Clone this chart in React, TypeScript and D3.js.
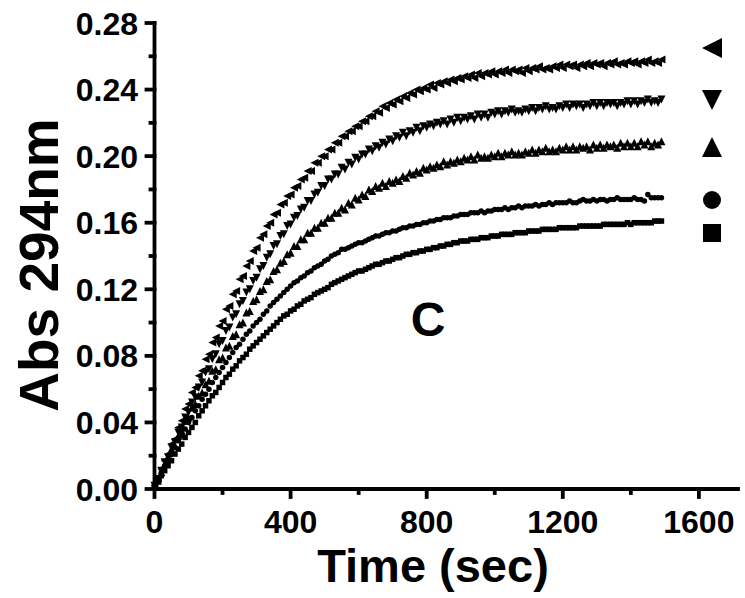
import React from 'react';
import * as d3 from 'd3';

// sampling grid (s)
const timeSec: number[] = d3.range(0, 1500, 10);

// Absorbance at 294 nm, one value per time point
const absLeftTri = [
  0.002,0.006,0.012,0.017,0.021,0.027,0.030,0.037,0.041,0.048,
  0.051,0.058,0.061,0.068,0.071,0.078,0.081,0.088,0.091,0.098,
  0.101,0.108,0.110,0.117,0.119,0.126,0.128,0.134,0.137,0.143,
  0.145,0.151,0.153,0.158,0.160,0.165,0.166,0.171,0.172,0.176,
  0.177,0.181,0.182,0.186,0.187,0.191,0.191,0.196,0.196,0.200,
  0.200,0.204,0.204,0.208,0.208,0.212,0.212,0.215,0.215,0.218,
  0.218,0.221,0.221,0.224,0.224,0.227,0.226,0.230,0.229,0.232,
  0.231,0.234,0.233,0.236,0.235,0.238,0.237,0.240,0.239,0.241,
  0.240,0.243,0.241,0.244,0.243,0.245,0.244,0.246,0.245,0.247,
  0.246,0.248,0.247,0.249,0.247,0.250,0.248,0.250,0.249,0.251,
  0.249,0.251,0.250,0.252,0.250,0.252,0.251,0.252,0.250,0.253,
  0.251,0.253,0.252,0.254,0.252,0.253,0.252,0.254,0.253,0.255,
  0.253,0.255,0.254,0.255,0.253,0.255,0.254,0.256,0.254,0.256,
  0.255,0.256,0.254,0.256,0.255,0.257,0.255,0.256,0.255,0.257,
  0.256,0.257,0.255,0.257,0.256,0.258,0.256,0.257,0.256,0.258,
];
const absDownTri = [
  0.002,0.006,0.011,0.016,0.019,0.025,0.028,0.034,0.037,0.043,
  0.046,0.052,0.055,0.061,0.064,0.070,0.072,0.078,0.081,0.087,
  0.089,0.095,0.097,0.103,0.105,0.111,0.113,0.118,0.120,0.125,
  0.127,0.132,0.134,0.139,0.141,0.146,0.147,0.152,0.153,0.158,
  0.159,0.163,0.164,0.168,0.169,0.173,0.173,0.177,0.178,0.182,
  0.182,0.186,0.186,0.189,0.189,0.193,0.192,0.196,0.195,0.199,
  0.198,0.201,0.201,0.204,0.203,0.206,0.205,0.208,0.207,0.210,
  0.209,0.212,0.211,0.214,0.212,0.215,0.214,0.217,0.215,0.218,
  0.217,0.219,0.218,0.220,0.219,0.221,0.219,0.222,0.220,0.223,
  0.221,0.223,0.222,0.224,0.222,0.225,0.223,0.225,0.223,0.226,
  0.225,0.227,0.225,0.227,0.226,0.228,0.226,0.227,0.226,0.228,
  0.227,0.229,0.227,0.229,0.228,0.230,0.228,0.229,0.228,0.230,
  0.229,0.231,0.229,0.231,0.230,0.231,0.229,0.231,0.230,0.232,
  0.230,0.232,0.230,0.232,0.231,0.232,0.230,0.232,0.231,0.233,
  0.231,0.233,0.231,0.233,0.232,0.234,0.232,0.233,0.232,0.234,
];
const absUpTri = [
  0.002,0.005,0.010,0.015,0.018,0.024,0.026,0.032,0.035,0.041,
  0.043,0.049,0.051,0.056,0.058,0.063,0.065,0.071,0.072,0.078,
  0.079,0.085,0.086,0.092,0.093,0.099,0.100,0.106,0.107,0.113,
  0.114,0.119,0.120,0.125,0.126,0.131,0.132,0.136,0.137,0.141,
  0.142,0.146,0.146,0.150,0.150,0.154,0.154,0.157,0.157,0.160,
  0.160,0.163,0.163,0.166,0.166,0.169,0.168,0.172,0.171,0.175,
  0.174,0.177,0.176,0.180,0.179,0.182,0.181,0.184,0.182,0.185,
  0.184,0.186,0.185,0.188,0.187,0.190,0.189,0.191,0.190,0.193,
  0.192,0.194,0.193,0.195,0.194,0.197,0.195,0.197,0.196,0.198,
  0.197,0.199,0.198,0.200,0.198,0.201,0.199,0.200,0.199,0.201,
  0.200,0.202,0.200,0.202,0.201,0.203,0.201,0.202,0.201,0.203,
  0.202,0.204,0.202,0.204,0.203,0.205,0.203,0.204,0.203,0.205,
  0.204,0.206,0.204,0.206,0.204,0.206,0.205,0.206,0.204,0.207,
  0.205,0.207,0.205,0.207,0.206,0.207,0.205,0.208,0.206,0.208,
  0.206,0.208,0.206,0.209,0.207,0.209,0.206,0.208,0.207,0.209,
];
const absCircle = [
  0.002,0.006,0.010,0.014,0.018,0.021,0.025,0.029,0.032,0.036,
  0.040,0.043,0.047,0.050,0.054,0.057,0.060,0.064,0.067,0.070,
  0.073,0.076,0.079,0.082,0.085,0.087,0.090,0.093,0.095,0.098,
  0.100,0.102,0.105,0.107,0.110,0.112,0.114,0.116,0.118,0.120,
  0.122,0.124,0.125,0.127,0.128,0.130,0.131,0.133,0.134,0.135,
  0.137,0.138,0.140,0.141,0.142,0.144,0.144,0.145,0.146,0.147,
  0.148,0.148,0.149,0.150,0.151,0.152,0.152,0.153,0.154,0.154,
  0.155,0.155,0.156,0.157,0.157,0.158,0.158,0.159,0.159,0.160,
  0.160,0.161,0.161,0.162,0.162,0.163,0.163,0.163,0.164,0.164,
  0.165,0.165,0.165,0.166,0.166,0.166,0.167,0.166,0.167,0.167,
  0.168,0.168,0.168,0.169,0.168,0.169,0.169,0.170,0.169,0.170,
  0.170,0.170,0.171,0.170,0.171,0.171,0.172,0.171,0.172,0.172,
  0.172,0.172,0.173,0.172,0.172,0.173,0.174,0.173,0.173,0.174,
  0.173,0.174,0.174,0.173,0.174,0.174,0.175,0.174,0.174,0.174,
  0.174,0.175,0.174,0.174,0.173,0.177,0.175,0.175,0.175,0.175,
];
const absSquare = [
  0.002,0.005,0.008,0.011,0.014,0.017,0.021,0.024,0.027,0.031,
  0.034,0.037,0.040,0.044,0.047,0.050,0.053,0.056,0.058,0.061,
  0.064,0.067,0.069,0.072,0.074,0.077,0.079,0.081,0.084,0.086,
  0.088,0.090,0.092,0.094,0.096,0.098,0.100,0.102,0.104,0.105,
  0.107,0.108,0.110,0.111,0.113,0.114,0.115,0.117,0.118,0.119,
  0.120,0.121,0.123,0.124,0.125,0.126,0.127,0.128,0.129,0.130,
  0.131,0.131,0.132,0.133,0.134,0.135,0.135,0.136,0.137,0.137,
  0.138,0.139,0.139,0.140,0.141,0.141,0.142,0.142,0.143,0.143,
  0.144,0.144,0.145,0.145,0.146,0.146,0.147,0.147,0.148,0.148,
  0.149,0.149,0.149,0.150,0.150,0.150,0.151,0.151,0.151,0.152,
  0.152,0.152,0.153,0.153,0.153,0.153,0.154,0.154,0.154,0.154,
  0.155,0.155,0.155,0.155,0.156,0.156,0.156,0.156,0.156,0.157,
  0.157,0.157,0.157,0.157,0.157,0.158,0.158,0.158,0.158,0.158,
  0.158,0.158,0.159,0.159,0.159,0.159,0.159,0.159,0.159,0.160,
  0.159,0.160,0.160,0.160,0.160,0.160,0.160,0.161,0.161,0.161,
];

const xMajorTicks = [0, 400, 800, 1200, 1600];
const xMinorTicks = [200, 600, 1000, 1400];
const yMajorTicks = [0, 0.04, 0.08, 0.12, 0.16, 0.2, 0.24, 0.28];
const yMinorTicks = [0.02, 0.06, 0.1, 0.14, 0.18, 0.22, 0.26];
const xLabel = 'Time (sec)';
const yLabel = 'Abs 294nm';
const panelLabel = 'C';

type Shape = 'left' | 'down' | 'up' | 'circle' | 'square';
const seriesList: { shape: Shape; values: number[] }[] = [
  { shape: 'left', values: absLeftTri },
  { shape: 'down', values: absDownTri },
  { shape: 'up', values: absUpTri },
  { shape: 'circle', values: absCircle },
  { shape: 'square', values: absSquare },
];

function markerPath(shape: Shape, s: number): string {
  const h = s / 2;
  if (shape === 'left') return `M${-h},0L${h},${-h}L${h},${h}Z`;
  if (shape === 'down') return `M${-h},${-h}L${h},${-h}L0,${h}Z`;
  if (shape === 'up') return `M${-h},${h}L${h},${h}L0,${-h}Z`;
  if (shape === 'square') return `M${-h},${-h}H${h}V${h}H${-h}Z`;
  return d3.symbol().type(d3.symbolCircle).size(Math.PI * h * h)() || '';
}

const W = 745;
const H = 598;
const font = "'Liberation Sans', Arial, sans-serif";

export default function App() {
  const x = d3.scaleLinear().domain([0, 1715]).range([154.5, 738]);
  const y = d3.scaleLinear().domain([0, 0.28]).range([489, 23]);
  const y0 = y(0);
  const x0 = x(0);
  const dataSize: Record<Shape, number> = { left: 8, down: 8, up: 8, circle: 5.5, square: 5.5 };
  const legendSize: Record<Shape, number> = { left: 20, down: 20, up: 20, circle: 18, square: 18 };
  const legendY = [48, 100, 147, 200, 233];

  return (
    <svg width={W} height={H} style={{ position: 'absolute', left: 0, top: 0, background: '#fff' }}>
      <rect width={W} height={H} fill="#fff" />
      {seriesList.map((s, si) => (
        <g key={si}>
          {s.values.map((v, i) => (
            <path key={i} d={markerPath(s.shape, dataSize[s.shape])}
              transform={`translate(${x(timeSec[i])},${y(v)})`} fill="#000" />
          ))}
        </g>
      ))}
      {/* axes */}
      <g stroke="#000" strokeWidth={3.8} strokeLinecap="square">
        <line x1={x0} x2={x(1715)} y1={y0} y2={y0} />
        <line x1={x0} x2={x0} y1={y0} y2={y(0.28)} />
        {xMajorTicks.map(t => <line key={'xm' + t} x1={x(t)} x2={x(t)} y1={y0} y2={y0 + 8} />)}
        {xMinorTicks.map(t => <line key={'xn' + t} x1={x(t)} x2={x(t)} y1={y0} y2={y0 + 4} />)}
        {yMajorTicks.map(t => <line key={'ym' + t} x1={x0} x2={x0 - 8} y1={y(t)} y2={y(t)} />)}
        {yMinorTicks.map(t => <line key={'yn' + t} x1={x0} x2={x0 - 4} y1={y(t)} y2={y(t)} />)}
      </g>
      <g fontFamily={font} fontWeight="bold" fontSize={32} fill="#000">
        {xMajorTicks.map(t => (
          <text key={'xl' + t} x={x(t)} y={533} textAnchor="middle">{t}</text>
        ))}
        {yMajorTicks.map(t => (
          <text key={'yl' + t} x={138} y={y(t) + 11.5} textAnchor="end">{t.toFixed(2)}</text>
        ))}
      </g>
      <text x={433} y={582} textAnchor="middle" fontFamily={font} fontWeight="bold" fontSize={47}>{xLabel}</text>
      <text transform={`translate(58,265) rotate(-90)`} textAnchor="middle" fontFamily={font} fontWeight="bold" fontSize={55}>{yLabel}</text>
      <text x={428} y={336} textAnchor="middle" fontFamily={font} fontWeight="bold" fontSize={48}>{panelLabel}</text>
      {seriesList.map((s, si) => (
        <path key={'lg' + si} d={markerPath(s.shape, legendSize[s.shape])}
          transform={`translate(712,${legendY[si]})`} fill="#000" />
      ))}
    </svg>
  );
}
